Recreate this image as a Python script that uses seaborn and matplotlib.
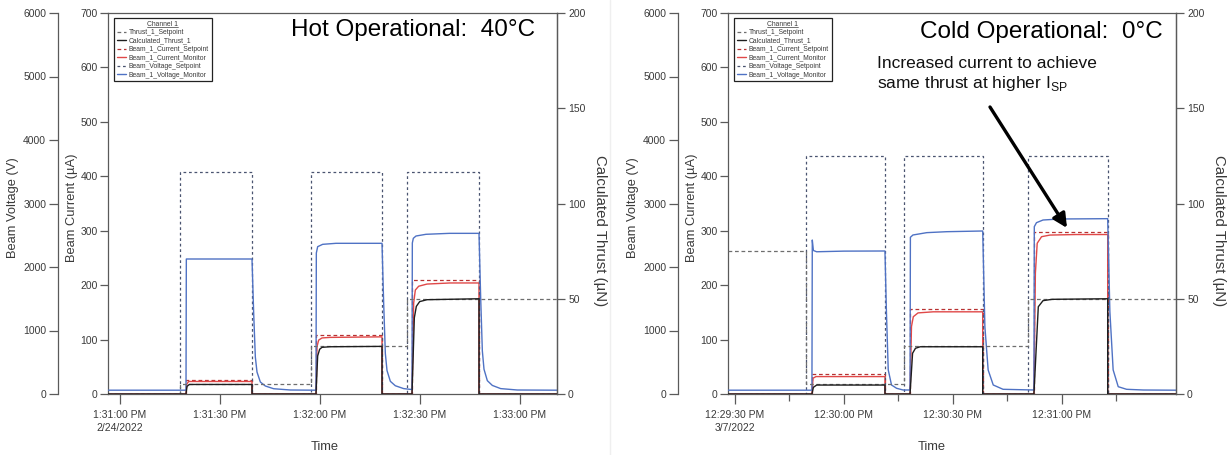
import numpy as np
import pandas as pd
import matplotlib
matplotlib.use("Agg")
import matplotlib.pyplot as plt
import seaborn as sns
from matplotlib.lines import Line2D

# ---------------------------------------------------------------
# Hot operational run (40 °C), times in seconds after 1:31:00 PM
# ---------------------------------------------------------------
hot_start = "2022-02-24 13:31:00"
hot_xlim_s = (-3.6, 131.1)
hot_tick_s = [0, 30, 60, 90, 120]
hot_tick_labels = ["1:31:00 PM\n2/24/2022", "1:31:30 PM", "1:32:00 PM",
                   "1:32:30 PM", "1:33:00 PM"]
hot_minor_s = []

hot_vset_s = [-3.6, 18.0, 18.0, 39.6, 39.6, 57.3, 57.3, 78.6, 78.6, 86.1,
              86.1, 107.7, 107.7, 131.1]
hot_vset_v = [0, 0, 3500, 3500, 0, 0, 3500, 3500, 0, 0, 3500, 3500, 0, 0]

hot_vmon_s = [-3.6, 19.8, 19.9, 39.6, 40.1, 40.6, 41.1, 42.1, 43.6, 46.1,
              51.1, 58.8, 58.9, 59.3, 60.8, 64.8, 78.6, 79.1, 79.6, 80.1,
              81.1, 82.6, 85.1, 87.6, 87.7, 88.0, 88.8, 91.8, 98.8, 107.7,
              108.2, 108.7, 109.2, 110.2, 111.7, 114.2, 119.2, 131.1]
hot_vmon_v = [60, 60, 2126, 2126, 1276, 583, 346, 189, 126, 83,
              63, 60, 2220, 2320, 2357, 2373, 2373, 1430, 640, 370,
              200, 130, 85, 70, 2378, 2452, 2488, 2515, 2530, 2530,
              1520, 680, 390, 210, 135, 85, 63, 60]

hot_iset_s = [-3.6, 19.8, 19.8, 39.6, 39.6, 58.8, 58.8, 78.6, 78.6, 87.6,
              87.6, 107.7, 107.7, 131.1]
hot_iset_v = [0, 0, 26, 26, 0, 0, 108, 108, 0, 0, 209, 209, 0, 0]

hot_imon_s = [-3.6, 19.8, 20.0, 20.6, 39.6, 39.6, 58.8, 59.1, 59.6, 60.6,
              63.0, 78.6, 78.6, 87.6, 88.1, 88.6, 89.6, 92.1, 99.0, 107.7,
              107.7, 131.1]
hot_imon_v = [0, 0, 18, 23, 23, 0, 0, 87, 99, 103,
              104, 105, 0, 0, 167, 191, 198, 202, 204, 204,
              0, 0]

hot_tset_s = [-3.6, 18.0, 18.0, 57.3, 57.3, 86.1, 86.1, 131.1]
hot_tset_v = [0, 0, 5, 5, 25, 25, 50, 50]

hot_tcalc_s = [-3.6, 19.8, 20.1, 20.8, 39.6, 39.6, 58.8, 59.3, 59.9, 60.6,
               63.0, 78.6, 78.6, 87.6, 88.3, 88.9, 89.9, 92.1, 107.7, 107.7,
               131.1]
hot_tcalc_v = [0, 0, 4, 5, 5, 0, 0, 20, 23.5, 24.5,
               24.8, 25, 0, 0, 40, 46, 48.5, 49.5, 50, 0,
               0]

# ---------------------------------------------------------------
# Cold operational run (0 °C), times in seconds after 12:29:30 PM
# ---------------------------------------------------------------
cold_start = "2022-03-07 12:29:30"
cold_xlim_s = (-1.9, 121.4)
cold_tick_s = [0, 30, 60, 90]
cold_tick_labels = ["12:29:30 PM\n3/7/2022", "12:30:00 PM", "12:30:30 PM",
                    "12:31:00 PM"]
cold_minor_s = [15, 45, 75, 105]

cold_vset_s = [-1.9, 19.5, 19.5, 41.3, 41.3, 46.5, 46.5, 68.2, 68.2, 80.6,
               80.6, 102.6, 102.6, 121.4]
cold_vset_v = [0, 0, 3750, 3750, 0, 0, 3750, 3750, 0, 0, 3750, 3750, 0, 0]

cold_vmon_s = [-1.9, 21.2, 21.3, 21.6, 22.5, 30.0, 41.3, 41.7, 42.2, 43.1,
               44.5, 46.3, 48.2, 48.3, 49.0, 52.8, 58.3, 68.2, 68.8, 69.7,
               71.1, 73.8, 82.3, 82.4, 83.0, 84.8, 89.4, 102.6, 103.2, 104.1,
               105.5, 107.8, 112.4, 121.4]
cold_vmon_v = [60, 60, 2425, 2260, 2240, 2250, 2252, 1300, 380, 142,
               90, 63, 63, 2468, 2504, 2541, 2556, 2567, 1060, 378,
               142, 74, 63, 2635, 2698, 2740, 2756, 2761, 1300, 380,
               115, 74, 63, 60]

cold_iset_s = [-1.9, 21.2, 21.2, 41.3, 41.3, 48.2, 48.2, 68.2, 68.2, 82.3,
               82.3, 102.6, 102.6, 121.4]
cold_iset_v = [0, 0, 37, 37, 0, 0, 156, 156, 0, 0, 298, 298, 0, 0]

cold_imon_s = [-1.9, 21.2, 21.5, 22.3, 41.3, 41.3, 48.2, 48.6, 49.1, 50.4,
               54.6, 68.2, 68.2, 82.3, 82.7, 83.2, 84.4, 86.7, 94.0, 102.6,
               102.6, 121.4]
cold_imon_v = [0, 0, 29, 32, 32, 0, 0, 124, 142, 149,
               151, 151, 0, 0, 222, 277, 289, 292, 293, 293,
               0, 0]

cold_tset_s = [-1.9, 19.5, 19.5, 46.5, 46.5, 80.6, 80.6, 121.4]
cold_tset_v = [75, 75, 5, 5, 25, 25, 50, 50]

cold_tcalc_s = [-1.9, 21.2, 21.6, 22.5, 41.3, 41.3, 48.2, 48.9, 49.7, 51.0,
                68.2, 68.2, 82.3, 83.5, 84.8, 87.3, 102.6, 102.6, 121.4]
cold_tcalc_v = [0, 0, 3.5, 4.7, 4.7, 0, 0, 21.4, 24, 24.8,
                24.8, 0, 0, 45.8, 49, 49.7, 50, 0, 0]

# axis ranges and legend entries
volt_lim, volt_ticks = (0, 6000), [0, 1000, 2000, 3000, 4000, 5000, 6000]
curr_lim, curr_ticks = (0, 700), [0, 100, 200, 300, 400, 500, 600, 700]
thr_lim, thr_ticks = (0, 200), [0, 50, 100, 150, 200]
legend_labels = ["Thrust_1_Setpoint", "Calculated_Thrust_1",
                 "Beam_1_Current_Setpoint", "Beam_1_Current_Monitor",
                 "Beam_Voltage_Setpoint", "Beam_1_Voltage_Monitor"]

# ---------------------------------------------------------------
sns.set_style("ticks")
plt.rcParams["font.family"] = ["Liberation Sans", "DejaVu Sans"]

SPINE = "#5a5a5a"
TXT = "#3a3a3a"
styles = {
    "tset": dict(color="#6e6e6e", lw=0.9, ls=(0, (3, 2.2))),
    "tcalc": dict(color="#1e1e1e", lw=1.0, ls="-"),
    "iset": dict(color="#b83232", lw=0.9, ls=(0, (3, 2.2))),
    "imon": dict(color="#e04848", lw=1.0, ls="-"),
    "vset": dict(color="#4a5470", lw=0.9, ls=(0, (2.2, 2.2))),
    "vmon": dict(color="#4f72c4", lw=1.0, ls="-"),
}

W, H = 1231, 455
fig = plt.figure(figsize=(W / 100, H / 100), dpi=100, facecolor="white")


def frame(start, secs, vals):
    t = pd.Timestamp(start) + pd.to_timedelta(np.asarray(secs, float), unit="s")
    return pd.DataFrame({"time": t, "value": vals})


def trace(ax, start, secs, vals, key):
    st = styles[key]
    sns.lineplot(data=frame(start, secs, vals), x="time", y="value", ax=ax,
                 estimator=None, sort=False, color=st["color"],
                 linewidth=st["lw"], linestyle=st["ls"])


def panel(x0, x1, start, xlim_s, tick_s, tick_labels, minor_s, d, title,
          title_xy, time_x):
    y_top, y_bot = 13, 394
    rect = [x0 / W, (H - y_bot) / H, (x1 - x0) / W, (y_bot - y_top) / H]
    ax_i = fig.add_axes(rect)
    ax_v = ax_i.twinx()
    ax_t = ax_i.twinx()

    trace(ax_i, start, d["iset_s"], d["iset_v"], "iset")
    trace(ax_i, start, d["imon_s"], d["imon_v"], "imon")
    trace(ax_v, start, d["vset_s"], d["vset_v"], "vset")
    trace(ax_v, start, d["vmon_s"], d["vmon_v"], "vmon")
    trace(ax_t, start, d["tset_s"], d["tset_v"], "tset")
    trace(ax_t, start, d["tcalc_s"], d["tcalc_v"], "tcalc")

    t0 = pd.Timestamp(start)
    sec = lambda s: t0 + pd.Timedelta(seconds=s)
    ax_i.set_xlim(sec(xlim_s[0]), sec(xlim_s[1]))
    ax_i.set_xticks([sec(s) for s in tick_s])
    ax_i.set_xticklabels(tick_labels, linespacing=1.35)
    ax_i.set_xticks([sec(s) for s in minor_s], minor=True)

    ax_i.set_ylim(*curr_lim)
    ax_i.set_yticks(curr_ticks)
    ax_v.set_ylim(*volt_lim)
    ax_v.set_yticks(volt_ticks)
    ax_t.set_ylim(*thr_lim)
    ax_t.set_yticks(thr_ticks)

    # voltage axis sits outside the current axis on the left
    ax_v.yaxis.set_ticks_position("left")
    ax_v.yaxis.set_label_position("left")
    ax_v.spines["left"].set_position(("outward", 36))
    for name in ("right", "top", "bottom"):
        ax_v.spines[name].set_visible(False)
    ax_v.spines["left"].set_visible(True)
    for name in ("left", "top", "bottom"):
        ax_t.spines[name].set_visible(False)

    for a in (ax_i, ax_v, ax_t):
        for sp in a.spines.values():
            sp.set_color(SPINE)
            sp.set_linewidth(0.9)
        a.tick_params(axis="y", direction="out", length=6, width=0.9,
                      color=SPINE, labelsize=7.5, labelcolor=TXT, pad=2)
    ax_i.tick_params(axis="x", which="major", direction="out", length=7.5,
                     width=0.9, color=SPINE, labelsize=7.5, labelcolor=TXT,
                     pad=4)
    ax_i.tick_params(axis="x", which="minor", direction="out", length=5,
                     width=0.9, color=SPINE)
    ax_i.tick_params(axis="y", length=5.5)
    ax_v.tick_params(axis="y", length=6.5)

    lab = dict(fontsize=9.3, color=TXT, ha="center", va="center")
    ax_i.set_xlabel("Time", **lab)
    ax_i.xaxis.set_label_coords((time_x - x0) / (x1 - x0), (y_bot - 447) / 381)
    ax_i.set_ylabel("Beam Current (µA)", rotation=90, **lab)
    ax_i.yaxis.set_label_coords(-0.080, 0.49)
    ax_v.set_ylabel("Beam Voltage (V)", rotation=90, **lab)
    ax_v.yaxis.set_label_coords(-0.212, 0.49)
    ax_t.set_ylabel("Calculated Thrust (µN)", rotation=270,
                    **dict(lab, fontsize=10.8))
    ax_t.yaxis.set_label_coords(1.095, (y_bot - 231) / 381)

    ax_t.text((title_xy[0] - x0) / (x1 - x0), (y_bot - title_xy[1]) / 381,
              title, transform=ax_t.transAxes, fontsize=17.5, color="black",
              ha="center", va="center")

    handles = [Line2D([], [], color=styles[k]["color"], lw=styles[k]["lw"],
                      ls=styles[k]["ls"])
               for k in ("tset", "tcalc", "iset", "imon", "vset", "vmon")]
    leg = ax_t.legend(handles, legend_labels, title="Channel 1",
                      loc="upper left",
                      bbox_to_anchor=(6 / (x1 - x0), (y_bot - 18) / 381),
                      borderaxespad=0, fontsize=4.9, title_fontsize=4.9,
                      handlelength=1.4, handletextpad=0.4, labelspacing=0.22,
                      borderpad=0.4, fancybox=False, framealpha=1,
                      edgecolor="#222222", labelcolor=TXT)
    leg.get_frame().set_linewidth(0.9)
    leg.get_title().set_color(TXT)
    return ax_i, ax_v, ax_t, leg


hot = dict(vset_s=hot_vset_s, vset_v=hot_vset_v, vmon_s=hot_vmon_s,
           vmon_v=hot_vmon_v, iset_s=hot_iset_s, iset_v=hot_iset_v,
           imon_s=hot_imon_s, imon_v=hot_imon_v, tset_s=hot_tset_s,
           tset_v=hot_tset_v, tcalc_s=hot_tcalc_s, tcalc_v=hot_tcalc_v)
cold = dict(vset_s=cold_vset_s, vset_v=cold_vset_v, vmon_s=cold_vmon_s,
            vmon_v=cold_vmon_v, iset_s=cold_iset_s, iset_v=cold_iset_v,
            imon_s=cold_imon_s, imon_v=cold_imon_v, tset_s=cold_tset_s,
            tset_v=cold_tset_v, tcalc_s=cold_tcalc_s, tcalc_v=cold_tcalc_v)

_, _, _, leg_hot = panel(108, 557, hot_start, hot_xlim_s, hot_tick_s,
                         hot_tick_labels, hot_minor_s, hot,
                         "Hot Operational:  40°C", (413, 30), 325)
_, _, axc_t, leg_cold = panel(728, 1176, cold_start, cold_xlim_s, cold_tick_s,
                              cold_tick_labels, cold_minor_s, cold,
                              "Cold Operational:  0°C", (1041, 32), 932)

# note on the cold run, pointing at the third current plateau
axc_t.text((877 - 728) / 448, (394 - 56) / 381,
           "Increased current to achieve\nsame thrust at higher I$_{\\mathregular{SP}}$",
           transform=axc_t.transAxes, fontsize=12.5, color="#111111",
           ha="left", va="top", linespacing=1.2)
axc_t.annotate("", xy=((1067 - 728) / 448, (394 - 228) / 381),
               xytext=((990 - 728) / 448, (394 - 107) / 381),
               xycoords="axes fraction", textcoords="axes fraction",
               arrowprops=dict(arrowstyle="-|>,head_length=0.7,head_width=0.35",
                               lw=2.4, color="black", mutation_scale=12,
                               shrinkA=0, shrinkB=0))

# faint divider between the two runs
fig.add_artist(Line2D([610 / W, 610 / W], [0, 1], transform=fig.transFigure,
                      color="#efefef", lw=1))

# underline the legend titles
fig.canvas.draw()
for leg in (leg_hot, leg_cold):
    bb = leg.get_title().get_window_extent()
    fig.add_artist(Line2D([bb.x0 / W, bb.x1 / W],
                          [(bb.y0 + 0.5) / H, (bb.y0 + 0.5) / H],
                          transform=fig.transFigure, color=TXT, lw=0.5))

fig.savefig("out.png", dpi=100, facecolor="white")
